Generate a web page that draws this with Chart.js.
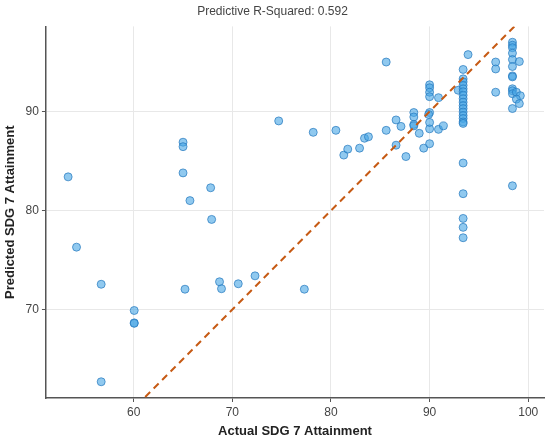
<!DOCTYPE html>
<html>
<head>
<meta charset="utf-8">
<title>Predictive R-Squared</title>
<script src="https://cdn.jsdelivr.net/npm/chart.js@4.4.1/dist/chart.umd.min.js"></script>
<style>
  html, body { margin: 0; padding: 0; background: #fff; }
  #wrap { width: 550px; height: 439px; }
</style>
</head>
<body>
<div id="wrap"><canvas id="predChart" width="550" height="439"></canvas></div>
<script>
// actual vs predicted SDG 7 attainment
const actual = [
    53.35, 54.2, 56.7, 56.7, 60.05, 60.05, 60.05, 65.0, 65.0, 65.0,
    65.7, 67.8, 67.9, 65.2, 68.7, 68.9, 70.6, 72.3, 77.3, 74.7,
    78.2, 80.5, 81.3, 81.7, 82.9, 83.4, 83.8, 85.6, 85.6, 86.6,
    86.6, 87.1, 87.6, 88.4, 88.4, 88.4, 88.4, 88.95, 89.4, 90.0,
    90.0, 90.0, 90.0, 89.9, 90.0, 90.0, 90.0, 90.0, 90.9, 90.9,
    91.4, 92.9,
    93.4, 93.4, 93.4, 93.4, 93.4, 93.4, 93.4, 93.4, 93.4, 93.4,
    93.4, 93.4, 93.4, 93.4, 93.4, 93.4,
    93.4, 93.4, 93.4, 93.4, 93.4,
    93.9, 96.7, 96.7, 96.7,
    98.4, 98.4, 98.4, 98.4, 98.4, 98.4, 98.4, 98.4, 98.4, 98.4,
    98.4, 98.4, 98.4,
    99.1, 98.8, 99.2, 98.8, 99.1
];
const predicted = [
    83.4, 76.3, 72.55, 62.7, 69.9, 68.65, 68.6, 86.9, 86.45, 83.8,
    81.0, 82.3, 79.1, 72.05, 72.8, 72.1, 72.6, 73.4, 72.05, 89.05,
    87.9, 88.1, 85.6, 86.2, 86.3, 87.3, 87.45, 95.0, 88.1, 86.6,
    89.15, 88.5, 85.45, 89.9, 89.45, 88.7, 88.55, 87.8, 86.3, 86.75,
    88.25, 88.9, 89.9, 89.7, 92.7, 92.4, 91.95, 91.5, 91.4, 88.2,
    88.55, 92.15,
    94.25, 93.3, 93.0, 92.65, 92.3, 92.0, 91.65, 91.3, 90.95, 90.6,
    90.3, 89.95, 89.6, 89.3, 88.95, 88.8,
    84.8, 81.7, 79.2, 78.3, 77.25,
    95.75, 95.0, 94.3, 91.95,
    97.0, 96.7, 96.45, 95.9, 95.25, 94.55, 93.6, 93.5, 92.3, 92.1,
    91.8, 90.3, 82.5,
    95.05, 91.95, 91.6, 91.25, 90.8
];
// perfect-prediction reference line (y = x), clipped by the plot area
const idealLine = [50, 102];
const xTicks = [60, 70, 80, 90, 100];
const yTicks = [70, 80, 90];

const points = actual.map(function (a, i) { return { x: a, y: predicted[i] }; });
const linePts = idealLine.map(function (v) { return { x: v, y: v }; });

const font = "'Liberation Sans', Arial, Helvetica, sans-serif";

const ctx = document.getElementById('predChart').getContext('2d');
new Chart(ctx, {
    type: 'scatter',
    data: {
        datasets: [{
            label: 'Predictions',
            data: points,
            backgroundColor: 'rgba(70, 165, 228, 0.6)',
            borderColor: 'rgba(36, 120, 190, 0.7)',
            borderWidth: 1,
            pointRadius: 4,
            order: 2
        }, {
            type: 'line',
            label: 'Ideal',
            data: linePts,
            borderColor: '#c65a14',
            borderWidth: 2,
            borderDash: [7, 5],
            pointRadius: 0,
            fill: false,
            order: 1
        }]
    },
    options: {
        responsive: false,
        animation: false,
        devicePixelRatio: 1,
        layout: { padding: { left: 1, right: 6, top: 0, bottom: 0 } },
        plugins: {
            legend: { display: false },
            tooltip: { enabled: false },
            title: {
                display: true,
                text: 'Predictive R-Squared: 0.592',
                color: '#444',
                font: { family: font, size: 12, weight: 'normal' },
                padding: { top: 4, bottom: 8 }
            }
        },
        scales: {
            x: {
                type: 'linear',
                min: 51.1,
                max: 101.6,
                afterBuildTicks: function (axis) {
                    axis.ticks = xTicks.map(function (v) { return { value: v }; });
                },
                ticks: { color: '#444', font: { family: font, size: 12 }, padding: 3 },
                grid: { color: '#e8e8e8', tickColor: '#555', tickLength: 4, lineWidth: 1 },
                border: { display: true, color: '#555', width: 1.5 },
                title: {
                    display: true,
                    text: 'Actual SDG 7 Attainment',
                    color: '#222',
                    font: { family: font, size: 13, weight: 'bold' },
                    padding: { top: 1, bottom: 0 }
                }
            },
            y: {
                type: 'linear',
                min: 61.06,
                max: 98.6,
                afterBuildTicks: function (axis) {
                    axis.ticks = yTicks.map(function (v) { return { value: v }; });
                },
                ticks: { color: '#444', font: { family: font, size: 12 }, padding: 3 },
                grid: { color: '#e8e8e8', tickColor: '#555', tickLength: 4, lineWidth: 1 },
                border: { display: true, color: '#555', width: 1.5 },
                title: {
                    display: true,
                    text: 'Predicted SDG 7 Attainment',
                    color: '#222',
                    font: { family: font, size: 13, weight: 'bold' },
                    padding: { top: 2, bottom: 4 }
                }
            }
        }
    }
});
</script>
</body>
</html>
